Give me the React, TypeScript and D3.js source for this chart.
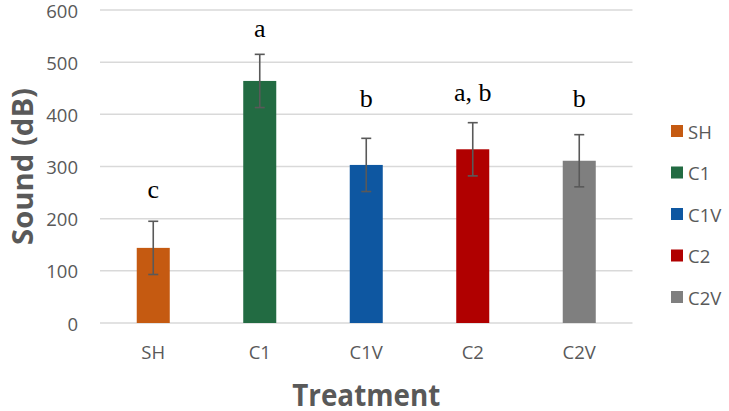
import React from "react";
import * as d3 from "d3";

const categories = ["SH", "C1", "C1V", "C2", "C2V"];
const means = [144, 464, 303, 333, 311];
const errors = [51, 51, 51, 51, 50];
const letters = ["c", "a", "b", "a, b", "b"];
const letterLevels = [239, 548, 414, 425, 414];
const colors = ["#C55A11", "#226B42", "#0E57A1", "#B00000", "#7F7F7F"];
const yTicks = [0, 100, 200, 300, 400, 500, 600];

const W = 729;
const H = 411;
const plotLeft = 100;
const plotRight = 632.5;
const plotTop = 10;
const plotBottom = 323;

export default function App() {
  const x = d3
    .scaleBand<string>()
    .domain(categories)
    .range([plotLeft, plotRight])
    .paddingInner(0.69)
    .paddingOuter(0.345);
  const y = d3.scaleLinear().domain([0, 600]).range([plotBottom, plotTop]);
  const bw = x.bandwidth();
  const sans = "'Open Sans', sans-serif";
  const grey = "#595959";

  return (
    <svg
      width={W}
      height={H}
      style={{ position: "absolute", left: 0, top: 0, background: "#fff" }}
    >
      <rect x={0} y={0} width={W} height={H} fill="#fff" />
      {yTicks.map((t) => (
        <g key={t}>
          <line
            x1={plotLeft}
            x2={plotRight}
            y1={y(t)}
            y2={y(t)}
            stroke="#D9D9D9"
            strokeWidth={1.5}
          />
          <text
            x={78}
            y={y(t) + 1}
            dy="0.36em"
            textAnchor="end"
            fontFamily={sans}
            fontSize={18.5}
            fill={grey}
          >
            {t}
          </text>
        </g>
      ))}
      {categories.map((c, i) => {
        const cx = (x(c) as number) + bw / 2;
        return (
          <g key={c}>
            <rect
              x={x(c)}
              y={y(means[i])}
              width={bw}
              height={y(0) - y(means[i])}
              fill={colors[i]}
            />
            <line
              x1={cx}
              x2={cx}
              y1={y(means[i] + errors[i])}
              y2={y(means[i] - errors[i])}
              stroke={grey}
              strokeWidth={1.6}
            />
            <line
              x1={cx - 5}
              x2={cx + 5}
              y1={y(means[i] + errors[i])}
              y2={y(means[i] + errors[i])}
              stroke={grey}
              strokeWidth={1.6}
            />
            <line
              x1={cx - 5}
              x2={cx + 5}
              y1={y(means[i] - errors[i])}
              y2={y(means[i] - errors[i])}
              stroke={grey}
              strokeWidth={1.6}
            />
            <text
              x={cx}
              y={y(letterLevels[i])}
              textAnchor="middle"
              fontFamily="'Liberation Serif', 'Times New Roman', serif"
              fontSize={26}
              fill="#000"
            >
              {letters[i]}
            </text>
            <text
              x={cx}
              y={359}
              textAnchor="middle"
              fontFamily={sans}
              fontSize={18.5}
              fill={grey}
            >
              {c}
            </text>
          </g>
        );
      })}
      <text
        x={(plotLeft + plotRight) / 2}
        y={406}
        textAnchor="middle"
        fontFamily={sans}
        fontWeight="bold"
        fontSize={31}
        fill={grey}
        textLength={148}
        lengthAdjust="spacingAndGlyphs"
      >
        Treatment
      </text>
      <text
        transform={`translate(33, ${(88 + 245) / 2}) rotate(-90)`}
        textAnchor="middle"
        fontFamily={sans}
        fontWeight="bold"
        fontSize={28}
        fill={grey}
        textLength={157}
        lengthAdjust="spacingAndGlyphs"
      >
        Sound (dB)
      </text>
      {categories.map((c, i) => {
        const cy = 131 + i * 41.5;
        return (
          <g key={"lg" + c}>
            <rect x={671} y={cy - 6} width={12} height={12} fill={colors[i]} />
            <text
              x={688}
              y={cy + 1}
              dy="0.36em"
              fontFamily={sans}
              fontSize={18.5}
              fill={grey}
            >
              {c}
            </text>
          </g>
        );
      })}
    </svg>
  );
}
